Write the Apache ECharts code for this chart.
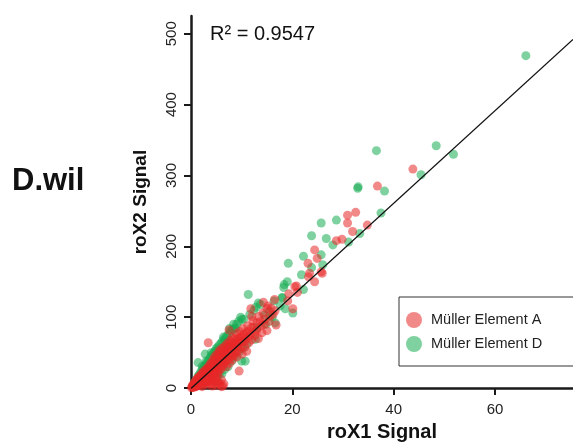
<!DOCTYPE html>
<html>
<head>
<meta charset="utf-8">
<script src="https://cdn.jsdelivr.net/npm/echarts@6/dist/echarts.min.js"></script>
<style>
  html, body { margin: 0; padding: 0; background: #fff; }
  #chart { width: 573px; height: 447px; }
</style>
</head>
<body>
<div id="chart"></div>
<script>
  // Müller Element A (red)  [roX1, roX2]
  var elementA = [
    [0.1,0.5],[0.2,2],[0.3,1],[0.3,4],[0.4,3],[0.5,1],[0.5,6],[0.6,3],[0.7,5],[0.7,8],[0.8,2],[0.9,6],[0.9,10],
    [1.0,4],[1.0,8],[1.1,12],[1.1,3],[1.2,7],[1.3,10],[1.3,14],[1.4,5],[1.5,9],[1.5,12],[1.6,16],[1.6,7],[1.7,11],
    [1.8,14],[1.8,4],[1.9,18],[2.0,9],[2.0,13],[2.1,16],[2.1,20],[2.2,11],[2.3,15],[2.3,22],[2.4,6],[2.5,13],[2.5,18],
    [2.6,24],[2.7,16],[2.7,10],[2.8,20],[2.9,26],[3.0,14],[3.0,22],[3.1,18],[3.2,28],[3.2,8],[3.3,21],[3.4,25],[3.4,15],
    [3.5,31],[3.6,19],[3.6,27],[3.7,23],[3.8,34],[3.8,12],[3.9,29],[4.0,21],[4.0,25],[4.1,37],[4.2,17],[4.2,31],[4.3,27],
    [4.4,40],[4.4,34],[4.5,23],[4.6,30],[4.6,44],[4.7,36],[4.8,26],[4.9,39],[5.0,33],[5.0,47],[5.1,29],[5.2,42],[5.3,36],
    [5.3,20],[5.4,49],[5.5,38],[5.6,44],[5.7,31],[5.8,52],[5.9,40],[6.0,47],[6.0,35],[6.1,56],[6.2,43],[6.3,50],[6.4,38],
    [6.5,58],[6.6,47],[6.7,53],[6.8,41],[6.9,61],[7.0,50],[7.1,57],[7.2,45],[7.3,64],[7.4,54],[7.6,60],[7.7,48],[7.8,67],
    [8.0,57],[8.1,72],[8.3,62],[8.5,51],[8.6,70],[8.8,64],[9.0,77],[9.2,58],[9.4,69],[9.6,80],[9.8,65],[10.0,72],
    [10.3,84],[10.6,66],[10.9,78],[11.2,88],[11.5,73],[11.9,85],[12.2,95],[12.6,80],[13.0,92],[13.4,101],[13.8,88],
    [14.2,106],[14.6,97],[15.0,112],[15.4,94],[15.8,113],[16.2,104],[16.6,109],[16.8,89],[15.0,81],[12.0,101],[11.8,112],
    [14.3,121],[15.2,116],[16.5,125],[15.6,102],
    [1.0,2],[1.2,11],[1.5,15],[1.8,9],[2.0,18],[2.2,6],[2.4,14],[2.6,9],[2.8,12],[3.0,18],[3.0,9],[3.3,12],[3.5,22],
    [3.6,11],[3.8,26],[3.9,17],[4.0,30],[4.1,14],[4.3,20],[4.5,33],[4.6,18],[4.8,31],[5.0,22],[5.0,40],[5.2,26],[5.4,34],
    [5.5,24],[5.6,53],[5.8,36],[5.9,27],[6.0,42],[6.2,31],[6.3,46],[6.5,34],[6.6,52],[6.8,38],[7.0,30],[7.0,46],[7.2,52],
    [7.4,40],[7.5,58],[7.6,35],[7.8,44],[8.0,50],[8.0,64],[8.2,40],[8.4,56],[8.5,46],[8.7,60],[8.9,50],[9.0,68],[9.1,44],
    [9.3,62],[9.5,54],[9.7,72],[9.9,58],[10.1,48],[10.2,66],[10.4,76],[10.6,58],[10.8,70],[11.0,52],[11.2,80],[11.4,64],
    [11.7,76],[12.0,68],[12.3,86],[12.6,74],[13.0,82],[13.3,70],[13.7,94],[14.0,78],[14.4,90],
    [4.2,3],[5.0,4],[5.4,8],[6.5,6],[6.0,2],[3.8,6],[4.6,10],
    [3.4,64],[7.5,82],[9.5,24],[4.4,6],[5.7,6],[6.3,3],[5.2,10],[6.0,12],[4.8,14],[3.1,5],[2.2,2],
    [19.1,123],[19.3,133],[20.1,112],[20.5,143],[20.8,144],[21.0,135],[23.2,157],[23.4,162],[24.4,150],[25.7,164],
    [25.9,162],[23.1,176],[24.9,183],[24.4,195],[28.7,208],[29.8,210],[31.9,221],[34.8,230],[30.9,233],[30.9,244],
    [32.5,248],[36.8,285],[43.8,309]
  ];

  // Müller Element D (green)
  var elementD = [
    [0.5,4],[0.8,9],[1.2,13],[1.4,17],[1.7,20],[2.0,24],[2.3,27],[2.6,30],[2.9,33],[3.2,36],[3.5,40],[3.8,43],[4.1,46],
    [4.4,49],[4.7,52],[5.0,56],[5.3,58],[5.6,61],[6.0,64],[6.3,67],[6.7,70],[7.0,73],[7.4,76],[7.8,80],[8.2,83],[8.7,85],
    [9.0,90],[9.4,94],[2.5,6],[3.5,10],[4.8,8],[5.2,15],[6.1,20],[6.6,26],[7.3,30],[8.0,38],[8.6,44],[9.4,50],[10.2,56],
    [10.7,38],[10.0,38],[11.0,62],[12.7,69],[1.4,36],[2.8,48],[5.1,53],[6.7,64],[8.7,83],[10.4,97],[10.0,97],[2.2,31],
    [5.1,20],[5.6,20],[11.3,132],[13.3,120],[13.7,118],[16.0,100],[17.6,116],[16.6,92],[18.0,128],[14.5,103],[15.5,108],
    [12.4,110],[13.0,85],[14.8,90],[3.0,38],[4.0,50],[6.4,72],[7.6,84],[8.4,90],[9.8,100],[11.6,104],[12.8,114],
    [66.1,469],[36.6,335],[48.4,342],[51.8,330],[45.4,301],[32.9,282],[33.0,284],[38.2,278],[37.5,247],[28.7,237],
    [25.7,233],[33.3,218],[23.8,215],[26.7,211],[31.1,206],[28.0,202],[25.7,188],[22.2,186],[19.2,176],[23.8,170],
    [26.0,174],[21.8,160],[19.0,150],[18.4,146],[18.3,142],[22.2,139],[18.0,127],[16.4,123],[18.6,112],[20.1,106]
  ];

  var xTicks = [0, 20, 40, 60];
  var yTicks = [0, 100, 200, 300, 400, 500];
  var fitSlope = 6.53;
  var fitIntercept = -0.5;
  var xMax = 75.4;
  var yMax = 525;

  var fitLine = [[0, fitIntercept], [xMax, fitIntercept + fitSlope * xMax]];

  var font = 'Liberation Sans, Arial, Helvetica, sans-serif';
  var axisColor = '#1a1a1a';

  var myChart = echarts.init(document.getElementById('chart'));
  myChart.setOption({
    animation: false,
    grid: { left: 191, right: 0, top: 16, bottom: 58 },
    xAxis: {
      type: 'value',
      min: 0,
      max: xMax,
      name: 'roX1 Signal',
      nameLocation: 'middle',
      nameGap: 28,
      nameTextStyle: { fontSize: 20, fontWeight: 'bold', color: '#111', fontFamily: font },
      axisLine: { show: true, onZero: false, lineStyle: { color: axisColor, width: 2.5 } },
      axisTick: { show: true, length: 7, lineStyle: { color: axisColor, width: 2 }, customValues: xTicks },
      axisLabel: { fontSize: 15, color: '#222', margin: 14, fontFamily: font, customValues: xTicks },
      splitLine: { show: false }
    },
    yAxis: {
      type: 'value',
      min: 0,
      max: yMax,
      name: 'roX2 Signal',
      nameLocation: 'middle',
      nameGap: 41,
      nameTextStyle: { fontSize: 19, fontWeight: 'bold', color: '#111', fontFamily: font },
      axisLine: { show: true, onZero: false, lineStyle: { color: axisColor, width: 2.5 } },
      axisTick: { show: true, length: 7, lineStyle: { color: axisColor, width: 2 }, customValues: yTicks },
      axisLabel: { fontSize: 15, color: '#222', margin: 12, rotate: 90, fontFamily: font, customValues: yTicks },
      splitLine: { show: false }
    },
    legend: {
      orient: 'vertical',
      left: 399,
      top: 297,
      icon: 'circle',
      itemWidth: 24,
      itemHeight: 16,
      itemGap: 8,
      padding: [15, 40, 14, 7],
      borderColor: '#333',
      borderWidth: 1,
      textStyle: { fontSize: 14.5, color: '#222', fontFamily: font },
      data: ['Müller Element A', 'Müller Element D']
    },
    graphic: [
      {
        type: 'text', left: 12, top: 166,
        style: { text: 'D.wil', fontSize: 31, fontWeight: 'bold', fill: '#111', fontFamily: font }
      },
      {
        type: 'text', left: 210, top: 24,
        style: { text: 'R² = 0.9547', fontSize: 20, fill: '#111', fontFamily: font }
      }
    ],
    series: [
      {
        name: 'Müller Element D',
        type: 'scatter',
        symbolSize: 9,
        itemStyle: { color: 'rgb(22,171,82)', opacity: 0.55 },
        data: elementD
      },
      {
        name: 'Müller Element A',
        type: 'scatter',
        symbolSize: 9,
        itemStyle: { color: 'rgb(232,40,40)', opacity: 0.55 },
        data: elementA
      },
      {
        name: 'fit',
        type: 'line',
        symbol: 'none',
        silent: true,
        lineStyle: { color: '#111', width: 1.3 },
        data: fitLine,
        z: 5
      }
    ]
  });
</script>
</body>
</html>
